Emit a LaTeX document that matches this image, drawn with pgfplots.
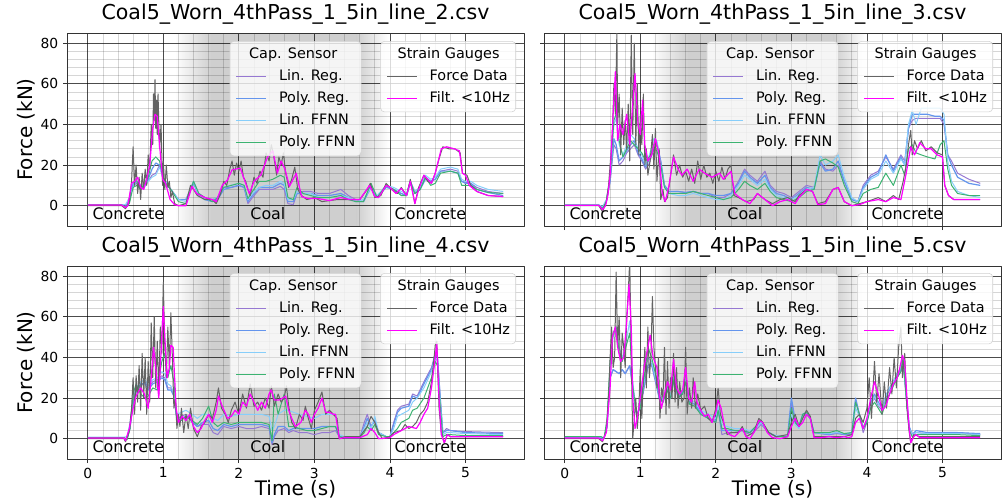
\documentclass[border=0pt]{standalone}
\usepackage{fontspec}
\setmainfont{DejaVu Sans}
\usepackage{pgfplots}
\usepackage{pgfplotstable}
\pgfplotsset{compat=1.18}

\definecolor{linreg}{RGB}{150,120,210}
\definecolor{polyreg}{RGB}{100,149,237}
\definecolor{linffnn}{RGB}{135,206,250}
\definecolor{polyffnn}{RGB}{60,179,113}
\definecolor{forcec}{RGB}{100,100,100}
\definecolor{filtc}{RGB}{255,0,255}

% ---------------- data: capacitive sensor estimates (x, Lin.Reg, Poly.Reg, Lin.FFNN, Poly.FFNN)
\pgfplotstableread{
x lr pr lf pf
0 0.2 0.3 0.5 0.4
0.45 0.2 0.3 0.5 0.4
0.5 -0.5 -0.8 0.5 -1
0.55 3 2 4 1
0.6 10 11 9 9
0.65 11 12 12 10
0.7 8 9 10 8
0.75 10 10 9 11
0.8 12 13 12 14
0.85 15 18 14 22
0.9 16 21 15 24
0.95 20 20 19 22
1.0 14 13 13 13
1.05 11 10 11 10
1.1 8 8 8 8
1.2 3 3 3 2
1.3 3 3 2 1
1.4 12 11 12 12
1.47 6 5 5 6
1.55 4 3 3 4
1.65 3 2 3 2
1.72 4 3 4 4
1.8 9 8 9 9
1.9 9 9 10 10
2.0 10 10 11 11
2.07 9 9 10 10
2.12 1 2 3 3.5
2.18 4 5 6 7
2.27 8 9 9 12
2.36 8 9 10 12
2.45 8 9 10 13
2.55 9.5 11 12 15
2.6 8 10 11 14
2.65 1 2 3 4
2.72 0.5 2 3 3
2.77 6 6 7 9
2.85 7 6 6 6
2.95 7 6 6 5
3.05 6 5 4 4
3.2 6 5 4 4
3.35 8 6 5 5
3.45 5 4 4 3
3.55 3 2 2 2
3.65 2 2 3 2
3.75 10 9 9 11
3.83 4.5 4 5 4
3.95 10 9 10 10
4.05 8 8 9 8
4.15 6 6 7 5
4.22 5 5 6 5
4.27 12 11 12 12
4.33 7 6 7 6
4.4 9 8 9 8
4.47 14 13 15 14
4.54 12 12 13 10
4.6 13 13 14 11
4.67 17 17 18 16
4.8 18 17 19 17
4.9 17 16 18 16
4.95 12 12 13 10
5.0 11.5 11 12 10
5.07 11 11 12 10
5.15 9 8 10 8
5.3 7 6.5 8 6.5
5.5 6 5 7 6
}\capA

\pgfplotstableread{
x lr pr lf pf
0 0.2 0.2 0.5 0.3
0.45 0.2 0.2 0.5 0.3
0.5 -1 -1 -0.5 -1.5
0.55 2 2 3 2
0.6 12 12 14 14
0.65 30 33 40 42
0.68 28 30 43 45
0.72 20 22 30 32
0.77 22 24 25 24
0.82 26 27 30 28
0.87 28 30 35 32
0.92 30 32 33 30
0.97 25 26 28 28
1.02 22 23 25 26
1.07 18 19 20 22
1.12 21 23 25 24
1.18 28 30 33 28
1.22 30 31 32 27
1.27 22 22 20 20
1.32 10 10 9 9
1.38 7 7 6 6
1.5 7 7 5 6
1.6 6.5 6.5 5 6
1.7 7 7 6 7
1.8 6 6 5 6
1.9 6 6 4 5
2.0 4 5 3 4
2.1 4 5 3 3
2.2 6 6 5 4
2.3 12 11 10 8
2.38 18 17 15 12
2.45 15 14 13 10
2.55 12 11 10 8
2.65 17 15 13 11
2.72 10 9 8 7
2.8 7 6 5 4
2.9 6 5 4 3
3.0 4 3 3 2
3.1 7 6 5 4
3.2 10 9 8 7
3.3 9 8 9 8
3.38 22 21 25 22
3.45 18 17 20 23
3.55 17 18 22 21
3.62 20 22 25 19
3.7 12 12 14 10
3.8 3 3 4 2
3.88 2 2 2 1
3.95 10 9 8 6
4.05 15 14 13 8
4.15 17 16 15 9
4.25 24 25 22 16
4.35 18 17 16 10
4.45 25 24 23 20
4.5 22 20 20 15
4.55 38 38 40 28
4.6 42 45 47 30
4.65 43 45 40 26
4.72 43 45 48 25
4.8 43 45 48 24
4.9 43 44 48 23
4.97 43 44 48 30
5.02 40 42 45 32
5.07 25 25 22 18
5.12 22 20 12 10
5.2 16 14 7 6
5.35 13 11 5 5
5.5 11 10 4 5
}\capB

\pgfplotstableread{
x lr pr lf pf
0 0.3 0.3 0.8 0.5
0.48 0.3 0.3 0.8 0.5
0.52 0 0 1 -0.5
0.56 5 6 8 5
0.6 18 18 20 22
0.64 24 23 25 27
0.7 26 27 28 22
0.76 28 27 29 20
0.8 25 24 26 21
0.86 28 27 29 25
0.92 29 28 30 24
0.98 31 30 33 38
1.02 30 29 32 42
1.06 25 24 27 30
1.1 25 24 26 36
1.14 22 21 22 28
1.18 10 9 12 10
1.24 11 10 13 9
1.3 12 11 14 11
1.38 8 9 12 9
1.45 6 6 10 7
1.52 7 8 12 10
1.6 7 9 12 16
1.66 3 5 10 8
1.72 2 4 9 6
1.8 6 7 12 8
1.9 5 6 11 7
2.0 6 7 12 8
2.1 5 7 12 8
2.2 5 7 12 8
2.3 6 7 12 8
2.4 5 6 11 7
2.44 -3 -2 4 -1
2.47 1 2 6 22
2.52 4 6 12 12
2.6 5 6 14 22
2.66 3 4 14 6
2.72 4 5 13 6
2.8 3 5 12 5
2.9 3 5 11 4
3.0 2 5 10 4
3.1 3 6 12 5
3.2 3 6 12 6
3.28 4 6 12 6
3.33 1 1 2 1
3.4 0.5 0.5 1 0.5
3.6 0.5 0.5 1 0.5
3.66 8 6 5 3
3.7 12 10 8 6
3.75 6 6 5 4
3.8 9 9 11 7
3.85 3 3 3 2
3.95 1 1 1 1
4.0 1 1 1 1
4.05 8 7 5 3
4.1 14 13 11 5
4.15 16 15 12 8
4.25 17 16 14 10
4.3 22 21 18 14
4.36 21 20 20 15
4.45 28 27 25 20
4.55 35 34 33 30
4.6 42 41 40 38
4.63 40 40 38 36
4.67 18 18 16 14
4.7 3 3 2 1
4.75 5 4 3 2
4.8 4 4 3 2
5.0 3.5 3 2.5 1.5
5.5 3 2.5 2 1.5
}\capC

\pgfplotstableread{
x lr pr lf pf
0 0.5 0.5 0.8 1
0.48 0.5 0.5 0.8 1
0.52 0 0 0.5 0.2
0.56 6 6 8 10
0.6 30 30 35 38
0.64 34 34 50 52
0.68 33 33 55 55
0.72 32 32 45 42
0.76 34 34 40 38
0.8 32 32 45 44
0.86 36 36 58 52
0.9 25 25 28 26
0.95 12 12 12 12
1.0 15 16 15 15
1.05 25 26 28 30
1.1 35 36 40 45
1.15 36 37 38 40
1.2 28 29 30 32
1.25 20 20 22 21
1.3 18 18 19 18
1.35 25 25 26 24
1.4 20 20 21 20
1.45 30 30 32 30
1.5 20 20 21 20
1.56 22 23 24 22
1.6 28 28 29 28
1.65 18 18 19 17
1.72 17 17 18 16
1.8 12 13 14 12
1.9 10 10 12 10
2.0 8 9 10 8
2.03 14 15 16 14
2.08 2 4 7 5
2.15 3 4 6 5
2.25 3 4 5 4
2.35 4 4 5 4
2.45 2 3 4 3
2.55 5 6 6 7
2.6 7 8 8 9
2.7 3 3 3 3
2.8 1 1 1.5 1
2.95 1 1.5 1.5 1
3.0 18 20 12 15
3.05 8 9 7 8
3.1 6 6 5 6
3.15 11 12 12 12
3.2 12 13 13 13
3.25 10 10 10 10
3.3 3 3 3 3
3.5 2 2 2.5 3
3.6 2.5 3 3 4
3.7 2 2 2.5 2.5
3.8 2 3 3 3
3.85 19 20 15 18
3.9 12 12 11 12
3.95 3 5 6 5
4.0 8 9 9 8
4.05 17 18 16 15
4.1 20 22 21 18
4.15 16 18 17 15
4.2 14 15 15 12
4.25 20 21 21 18
4.3 24 25 25 22
4.35 27 28 28 26
4.4 31 32 32 30
4.45 33 34 35 33
4.48 37 38 39 40
4.52 20 22 22 20
4.56 5 6 5 4
4.6 2 2 2 1
4.65 3 4 3 2
4.8 2.5 3 2.5 2
5.0 2.5 3 2.5 2
5.2 3 3 2.5 2
5.5 2 2.5 2 1.5
}\capD

\pgfplotsset{
  lrs/.style={draw=linreg, line width=0.75pt},
  prs/.style={draw=polyreg, line width=0.9pt},
  lfs/.style={draw=linffnn, line width=0.75pt},
  pfs/.style={draw=polyffnn, line width=0.75pt},
  fds/.style={draw=forcec, line width=0.75pt},
  ffs/.style={draw=filtc, line width=0.9pt},
  geom/.style={width=342.75pt, height=144.75pt, scale only axis,
    xmin=-0.275, xmax=5.775, ymin=-10, ymax=85},
  legbase/.style={
    legend cell align=left,
    legend image code/.code={\draw[##1, line width=1pt] (0pt,0pt) -- (22.5pt,0pt);},
    legend style={font=\fontsize{10.8}{13}\selectfont, fill=white, fill opacity=0.8,
      text opacity=1, draw=black!18, rounded corners=3pt,
      inner xsep=4.3pt, inner ysep=3.5pt, row sep=3.5pt,
      nodes={inner xsep=0pt, inner ysep=1pt, text height=8.3pt, text depth=2.7pt},
      /tikz/every odd column/.append style={column sep=9pt}},
  },
  panel/.style={geom, legbase,
    xtick={0,1,2,3,4,5}, ytick={0,20,40,60,80},
    minor x tick num=4, minor y tick num=4,
    grid=both,
    major grid style={draw=black, draw opacity=0.7, line width=0.6pt},
    minor grid style={draw=black, draw opacity=0.16, line width=0.5pt},
    tick align=outside, major tick length=3pt, minor tick length=0pt,
    tick pos=left,
    axis line style={black!80, line width=0.6pt},
    tick style={black!80, line width=0.6pt},
    /pgf/number format/assume math mode=true,
    ticklabel style={font=\fontsize{10.4}{12}\selectfont},
    title style={font=\fontsize{15.4}{18}\selectfont, at={(0.5,1)}, anchor=south, yshift=-3pt},
    every axis y label/.style={at={(axis description cs:-0.09,0.5)}, rotate=90, anchor=center, font=\fontsize{15}{18}\selectfont},
    every axis x label/.style={at={(axis description cs:0.5,-0.155)}, anchor=center, font=\fontsize{15}{18}\selectfont},
    no markers, line join=round,
    legend style={at={(0.5,0.9585)}, anchor=north},
  },
  overlay/.style={geom, legbase, hide axis,
    legend style={at={(0.9825,0.9585)}, anchor=north east}},
  backdrop/.style={geom, hide axis},
  lowrow/.style={legend style={yshift=0.75pt}},
}

\newcommand{\bgshade}{%
    \shade[left color=white, right color=black!19] (axis cs:1.15,-10) rectangle (axis cs:1.64,85);
    \fill[black!19] (axis cs:1.64,-10) rectangle (axis cs:3.56,85);
    \shade[left color=black!19, right color=white] (axis cs:3.56,-10) rectangle (axis cs:3.98,85);}
\newcommand{\regionlabels}{%
  \node[anchor=base west, inner sep=0pt, font=\fontsize{11.9}{14}\selectfont] at (axis cs:0.06,-7) {Concrete};
  \node[anchor=base west, inner sep=0pt, font=\fontsize{11.9}{14}\selectfont] at (axis cs:2.15,-7) {Coal};
  \node[anchor=base west, inner sep=0pt, font=\fontsize{11.9}{14}\selectfont] at (axis cs:4.06,-7) {Concrete};}
\newcommand{\caplegtitle}{\addlegendimage{empty legend}\addlegendentry{\hspace*{-22.4pt}Cap. Sensor}}
\newcommand{\sgleg}{%
  \addlegendimage{empty legend}\addlegendentry{\hspace*{-24pt}Strain Gauges}
  \addlegendimage{fds}\addlegendentry{Force Data}
  \addlegendimage{ffs}\addlegendentry{Filt. <10Hz}}

\begin{document}
\begin{tikzpicture}
% ================= panel 1 (top left)
\begin{axis}[backdrop, at={(50.25pt,-169.5pt)}, anchor=south west]
\bgshade
\end{axis}
\begin{axis}[panel, at={(50.25pt,-169.5pt)}, anchor=south west,
  title={Coal5\_Worn\_4thPass\_1\_5in\_line\_2.csv}, xticklabels={}, ylabel={Force (kN)}]
\caplegtitle
\addplot[lrs] table[x=x,y=lr] {\capA}; \addlegendentry{Lin. Reg.}
\addplot[prs] table[x=x,y=pr] {\capA}; \addlegendentry{Poly. Reg.}
\addplot[lfs] table[x=x,y=lf] {\capA}; \addlegendentry{Lin. FFNN}
\addplot[pfs] table[x=x,y=pf] {\capA}; \addlegendentry{Poly. FFNN}
\addplot[fds, forget plot] coordinates {(0,0)(0.45,0)(0.5,-1.5)(0.55,2)(0.58,12)(0.6,29)(0.62,10)(0.64,20)(0.66,6)(0.68,14)(0.7,3)(0.72,16)(0.74,8)(0.76,18)(0.78,10)(0.8,25)(0.82,18)(0.84,40)(0.86,30)(0.87,55)(0.88,42)(0.89,62)(0.9,38)(0.91,52)(0.92,35)(0.93,55)(0.95,28)(0.97,40)(0.99,10)(1.0,22)(1.02,8)(1.04,20)(1.06,9)(1.08,12)(1.1,4)(1.12,7)(1.15,1)(1.2,0)(1.3,1)(1.36,10)(1.4,8)(1.45,5)(1.55,3)(1.65,3)(1.7,1)(1.76,6)(1.8,12)(1.84,10)(1.88,18)(1.91,22)(1.94,15)(1.97,21)(2.0,17)(2.03,22)(2.06,14)(2.09,12)(2.12,8)(2.15,5)(2.2,14)(2.24,11)(2.28,17)(2.32,14)(2.36,26)(2.4,22)(2.43,30)(2.46,25)(2.5,15)(2.53,24)(2.56,20)(2.59,26)(2.62,16)(2.66,9)(2.7,13)(2.74,19)(2.78,8)(2.83,5)(2.9,3)(3.0,4)(3.1,2)(3.3,3)(3.45,3)(3.6,3)(3.7,8)(3.74,11)(3.8,4)(3.88,5)(3.95,11)(4.02,8)(4.1,6)(4.15,9)(4.22,5)(4.27,13)(4.33,1)(4.38,9)(4.45,15)(4.5,12)(4.55,11)(4.6,16)(4.65,23)(4.7,29)(4.78,28)(4.86,28)(4.93,26)(4.96,16)(5.02,15)(5.07,10)(5.15,7)(5.3,5)(5.5,4.5)};
\addplot[ffs, forget plot] coordinates {(0,0.3)(0.45,0.3)(0.5,-1)(0.53,0)(0.58,11)(0.62,12)(0.66,14)(0.7,9)(0.74,8)(0.78,13)(0.82,20)(0.86,38)(0.89,45)(0.92,44)(0.95,30)(0.99,13)(1.03,11)(1.09,3)(1.15,0.5)(1.2,0)(1.3,0)(1.38,9.5)(1.44,6)(1.55,4)(1.65,3)(1.7,2)(1.78,10)(1.85,12.7)(1.91,17.6)(2.02,18.5)(2.09,11)(2.14,6)(2.2,12)(2.29,15)(2.38,24)(2.45,27)(2.51,16)(2.56,22)(2.61,18)(2.67,9.5)(2.76,16)(2.83,4.5)(2.92,3.5)(3.05,3.5)(3.2,2.5)(3.35,4)(3.47,3)(3.6,3)(3.73,10)(3.8,4.5)(3.85,4)(3.95,10)(4.0,9)(4.08,6)(4.15,8.5)(4.22,5)(4.27,12)(4.33,1)(4.38,8)(4.45,15)(4.5,13)(4.55,11)(4.6,16)(4.64,22)(4.68,28)(4.75,29)(4.85,28)(4.92,27)(4.96,16)(5.0,15)(5.05,10)(5.15,7)(5.3,5)(5.5,4.5)};
\regionlabels
\end{axis}
\begin{axis}[overlay, at={(50.25pt,-169.5pt)}, anchor=south west]
\sgleg
\end{axis}

% ================= panel 2 (top right)
\begin{axis}[backdrop, at={(408pt,-169.5pt)}, anchor=south west]
\bgshade
\end{axis}
\begin{axis}[panel, at={(408pt,-169.5pt)}, anchor=south west,
  title={Coal5\_Worn\_4thPass\_1\_5in\_line\_3.csv}, xticklabels={}, yticklabels={}]
\caplegtitle
\addplot[lrs] table[x=x,y=lr] {\capB}; \addlegendentry{Lin. Reg.}
\addplot[prs] table[x=x,y=pr] {\capB}; \addlegendentry{Poly. Reg.}
\addplot[lfs] table[x=x,y=lf] {\capB}; \addlegendentry{Lin. FFNN}
\addplot[pfs] table[x=x,y=pf] {\capB}; \addlegendentry{Poly. FFNN}
\addplot[fds, forget plot] coordinates {(0,0)(0.45,0)(0.5,-3)(0.55,2)(0.58,10)(0.6,20)(0.63,35)(0.65,60)(0.67,45)(0.69,86)(0.7,40)(0.72,55)(0.74,25)(0.76,48)(0.78,30)(0.8,42)(0.82,28)(0.84,50)(0.86,22)(0.88,84)(0.9,35)(0.92,80)(0.94,30)(0.96,60)(0.98,25)(1.0,45)(1.02,30)(1.04,55)(1.06,20)(1.08,28)(1.1,15)(1.13,22)(1.16,35)(1.18,18)(1.2,38)(1.22,12)(1.25,28)(1.27,3)(1.3,8)(1.32,2)(1.36,4)(1.4,15)(1.44,25)(1.48,15)(1.52,20)(1.56,14)(1.6,17)(1.64,12)(1.68,18)(1.72,11)(1.76,22)(1.8,13)(1.84,20)(1.88,14)(1.92,16)(1.96,11)(2.0,17)(2.04,12)(2.08,19)(2.12,13)(2.16,18)(2.2,20)(2.24,5)(2.3,4)(2.4,2)(2.5,3)(2.55,6)(2.65,3)(2.75,1)(2.85,3)(2.95,4)(3.05,2)(3.1,5)(3.2,8)(3.28,7)(3.35,1)(3.45,2)(3.55,8)(3.62,9)(3.7,2)(3.8,0)(3.9,1)(4.0,2)(4.15,4)(4.25,2)(4.35,5)(4.42,3)(4.48,12)(4.52,20)(4.55,30)(4.58,37)(4.6,25)(4.63,32)(4.67,28)(4.72,32)(4.78,27)(4.85,29)(4.93,26)(5.0,25)(5.03,10)(5.08,5)(5.15,3)(5.3,3)(5.5,3)};
\addplot[ffs, forget plot] coordinates {(0,0.2)(0.45,0.2)(0.5,-2)(0.54,0)(0.57,5)(0.6,15)(0.64,45)(0.67,66)(0.7,32)(0.73,40)(0.77,35)(0.82,45)(0.86,30)(0.9,50)(0.93,65)(0.97,40)(1.0,35)(1.03,52)(1.06,30)(1.1,22)(1.15,25)(1.2,33)(1.25,25)(1.29,6)(1.33,2)(1.38,10)(1.44,24)(1.5,18)(1.55,15)(1.62,18)(1.7,12)(1.78,18)(1.85,16)(1.95,14)(2.05,16)(2.1,13)(2.2,17)(2.25,6)(2.35,3)(2.45,1)(2.55,6)(2.65,3)(2.75,0)(2.85,2)(2.95,3)(3.05,1)(3.1,4)(3.2,8)(3.28,7)(3.35,0.5)(3.45,1)(3.55,8)(3.62,9)(3.7,2)(3.8,0)(3.9,0.5)(4.0,2)(4.15,3)(4.25,2)(4.35,4)(4.45,3)(4.52,16)(4.58,29)(4.63,25)(4.7,31)(4.78,28)(4.85,28)(4.93,25)(5.0,24)(5.03,10)(5.08,5)(5.15,3)(5.3,3)(5.5,3)};
\regionlabels
\end{axis}
\begin{axis}[overlay, at={(408pt,-169.5pt)}, anchor=south west]
\sgleg
\end{axis}

% ================= panel 3 (bottom left)
\begin{axis}[backdrop, at={(50.25pt,-344.25pt)}, anchor=south west]
\bgshade
\end{axis}
\begin{axis}[panel, lowrow, at={(50.25pt,-344.25pt)}, anchor=south west,
  title={Coal5\_Worn\_4thPass\_1\_5in\_line\_4.csv}, ylabel={Force (kN)}, xlabel={Time (s)}]
\caplegtitle
\addplot[lrs] table[x=x,y=lr] {\capC}; \addlegendentry{Lin. Reg.}
\addplot[prs] table[x=x,y=pr] {\capC}; \addlegendentry{Poly. Reg.}
\addplot[lfs] table[x=x,y=lf] {\capC}; \addlegendentry{Lin. FFNN}
\addplot[pfs] table[x=x,y=pf] {\capC}; \addlegendentry{Poly. FFNN}
\addplot[fds, forget plot] coordinates {(0,0)(0.48,0)(0.5,-1.5)(0.55,4)(0.58,15)(0.6,30)(0.62,12)(0.64,31)(0.66,18)(0.68,36)(0.7,14)(0.72,42)(0.74,20)(0.76,40)(0.78,12)(0.8,38)(0.82,18)(0.84,57)(0.86,30)(0.88,60)(0.9,25)(0.92,48)(0.94,22)(0.96,55)(0.98,42)(1.0,77)(1.02,45)(1.04,30)(1.06,55)(1.08,35)(1.1,62)(1.12,40)(1.14,15)(1.16,20)(1.18,5)(1.2,12)(1.22,6)(1.24,15)(1.27,3)(1.3,12)(1.33,5)(1.36,15)(1.4,5)(1.45,1)(1.5,6)(1.55,8)(1.6,12)(1.65,10)(1.7,18)(1.73,25)(1.77,15)(1.82,12)(1.86,8)(1.9,14)(1.95,18)(2.0,12)(2.05,22)(2.1,15)(2.15,27)(2.2,16)(2.25,18)(2.3,14)(2.35,20)(2.4,15)(2.43,26)(2.47,16)(2.52,22)(2.56,18)(2.6,20)(2.63,26)(2.66,16)(2.7,8)(2.75,5)(2.8,12)(2.85,9)(2.88,16)(2.92,10)(2.96,5)(3.0,14)(3.05,18)(3.1,23)(3.15,12)(3.2,14)(3.25,12)(3.3,10)(3.33,0)(3.4,1)(3.5,1)(3.6,1)(3.7,6)(3.75,11)(3.8,8)(3.85,3)(3.9,0)(4.0,1)(4.05,3)(4.15,4)(4.2,7)(4.25,5)(4.3,6)(4.35,8)(4.4,12)(4.45,14)(4.5,18)(4.55,28)(4.58,38)(4.6,46)(4.62,48)(4.65,15)(4.68,3)(4.72,-2)(4.76,2)(4.8,1)(5.0,1)(5.5,1)};
\addplot[ffs, forget plot] coordinates {(0,0.3)(0.48,0.3)(0.5,-1)(0.55,5)(0.6,15)(0.64,21)(0.7,25)(0.75,22)(0.8,15)(0.84,30)(0.87,45)(0.9,35)(0.94,20)(0.98,50)(1.0,65)(1.02,50)(1.05,30)(1.08,35)(1.1,46)(1.13,45)(1.17,15)(1.2,8)(1.25,11)(1.3,9)(1.35,12)(1.4,6)(1.45,3)(1.5,5)(1.55,9)(1.6,12)(1.65,8)(1.7,14)(1.73,21)(1.78,16)(1.85,10)(1.9,11)(1.95,14)(2.0,12)(2.05,18)(2.1,16)(2.15,22)(2.2,18)(2.25,14)(2.3,18)(2.35,15)(2.4,22)(2.43,24)(2.47,19)(2.53,19)(2.58,20)(2.62,21)(2.66,14)(2.7,10)(2.75,6)(2.82,8)(2.88,14)(2.92,12)(2.96,8)(3.0,12)(3.05,15)(3.1,20)(3.15,13)(3.2,13)(3.25,12)(3.28,12)(3.33,0)(3.4,0.5)(3.5,0.5)(3.6,0.5)(3.7,2)(3.75,5)(3.8,3)(3.85,0)(4.0,0.5)(4.05,2)(4.15,4)(4.25,6)(4.35,5)(4.4,8)(4.45,12)(4.5,15)(4.55,25)(4.6,40)(4.62,47)(4.65,20)(4.68,2)(4.72,-2)(4.76,2)(4.8,1)(4.9,1)(5.0,1)(5.5,1)};
\regionlabels
\end{axis}
\begin{axis}[overlay, lowrow, at={(50.25pt,-344.25pt)}, anchor=south west]
\sgleg
\end{axis}

% ================= panel 4 (bottom right)
\begin{axis}[backdrop, at={(408pt,-344.25pt)}, anchor=south west]
\bgshade
\end{axis}
\begin{axis}[panel, lowrow, at={(408pt,-344.25pt)}, anchor=south west,
  title={Coal5\_Worn\_4thPass\_1\_5in\_line\_5.csv}, yticklabels={}, xlabel={Time (s)}]
\caplegtitle
\addplot[lrs] table[x=x,y=lr] {\capD}; \addlegendentry{Lin. Reg.}
\addplot[prs] table[x=x,y=pr] {\capD}; \addlegendentry{Poly. Reg.}
\addplot[lfs] table[x=x,y=lf] {\capD}; \addlegendentry{Lin. FFNN}
\addplot[pfs] table[x=x,y=pf] {\capD}; \addlegendentry{Poly. FFNN}
\addplot[fds, forget plot] coordinates {(0,0)(0.45,0)(0.5,-1.5)(0.55,4)(0.58,20)(0.6,40)(0.62,55)(0.64,35)(0.66,40)(0.68,82)(0.7,45)(0.72,60)(0.74,30)(0.76,52)(0.78,45)(0.8,35)(0.82,60)(0.84,72)(0.86,88)(0.88,40)(0.9,0)(0.92,10)(0.94,20)(0.96,5)(0.98,15)(1.0,35)(1.02,10)(1.04,30)(1.06,45)(1.08,25)(1.1,55)(1.12,30)(1.14,40)(1.16,70)(1.18,45)(1.2,35)(1.22,25)(1.24,40)(1.26,10)(1.28,25)(1.3,20)(1.32,45)(1.34,12)(1.36,38)(1.38,15)(1.4,30)(1.42,20)(1.44,42)(1.46,18)(1.48,35)(1.5,15)(1.52,28)(1.55,18)(1.58,20)(1.6,45)(1.62,12)(1.65,25)(1.68,15)(1.7,30)(1.73,15)(1.76,22)(1.8,14)(1.85,16)(1.9,10)(1.95,8)(2.0,15)(2.03,25)(2.06,12)(2.1,8)(2.15,2)(2.2,3)(2.3,3)(2.35,6)(2.4,1)(2.5,3)(2.57,10)(2.62,8)(2.7,3)(2.8,1)(2.95,2)(3.0,8)(3.05,12)(3.1,6)(3.15,10)(3.2,14)(3.25,11)(3.3,1)(3.5,1)(3.7,1)(3.8,2)(3.85,10)(3.9,12)(3.95,8)(4.0,15)(4.03,30)(4.06,10)(4.1,38)(4.13,18)(4.16,32)(4.2,12)(4.23,28)(4.26,15)(4.3,35)(4.33,22)(4.36,40)(4.39,25)(4.42,45)(4.45,55)(4.47,30)(4.5,42)(4.53,15)(4.56,3)(4.58,-2)(4.62,2)(4.7,1)(5.0,1)(5.5,1)};
\addplot[ffs, forget plot] coordinates {(0,0.3)(0.45,0.3)(0.5,-1)(0.55,3)(0.6,25)(0.63,50)(0.67,55)(0.7,45)(0.74,38)(0.78,40)(0.82,58)(0.85,76)(0.88,55)(0.9,20)(0.93,5)(0.96,10)(1.0,20)(1.05,35)(1.1,45)(1.13,51)(1.17,40)(1.22,35)(1.25,22)(1.28,15)(1.32,22)(1.36,28)(1.4,24)(1.44,39)(1.48,25)(1.52,22)(1.56,24)(1.6,35)(1.64,20)(1.68,18)(1.72,28)(1.75,18)(1.8,14)(1.85,11)(1.9,12)(1.95,8)(2.0,13)(2.03,19)(2.07,15)(2.12,5)(2.18,2)(2.25,1)(2.3,3)(2.35,5)(2.4,1)(2.45,0)(2.52,4)(2.57,9)(2.62,8)(2.68,3)(2.75,0.5)(2.85,0)(2.95,1)(3.0,6)(3.05,10)(3.1,6)(3.15,8)(3.2,12)(3.25,10)(3.3,0.5)(3.4,0.5)(3.5,1)(3.6,0.5)(3.7,1)(3.75,0.5)(3.8,1)(3.85,8)(3.9,10)(3.95,5)(4.0,10)(4.05,20)(4.1,28)(4.15,22)(4.2,14)(4.25,16)(4.3,22)(4.35,27)(4.4,30)(4.43,34)(4.47,41)(4.5,38)(4.53,20)(4.56,5)(4.58,-2)(4.62,1)(4.65,2)(4.7,0.5)(5.0,0.5)(5.5,0.5)};
\regionlabels
\end{axis}
\begin{axis}[overlay, lowrow, at={(408pt,-344.25pt)}, anchor=south west]
\sgleg
\end{axis}

\pgfresetboundingbox
\path[use as bounding box] (0pt,0pt) rectangle (753.75pt,-376.5pt);
\end{tikzpicture}
\end{document}
